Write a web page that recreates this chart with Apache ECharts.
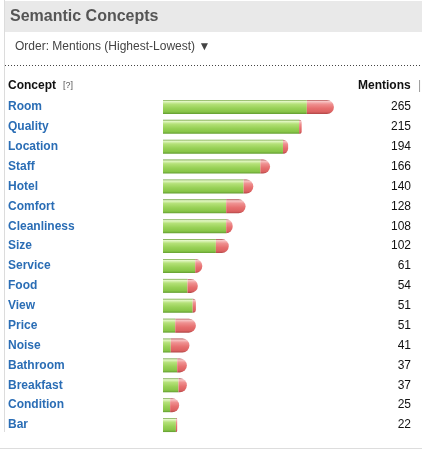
<!DOCTYPE html>
<html>
<head>
    <meta charset="utf-8"/>
    <title>Semantic Concepts</title>
    <style>
        html, body { margin: 0; padding: 0; background: #fff; }
    </style>
</head>
<body>
<div id="main" style="width: 422px;height:450px;"></div>
<script src="https://cdn.jsdelivr.net/npm/echarts@6/dist/echarts.min.js"></script>
<script>
    // concepts, ordered by mentions
    var concepts = ['Room', 'Quality', 'Location', 'Staff', 'Hotel', 'Comfort', 'Cleanliness', 'Size',
        'Service', 'Food', 'View', 'Price', 'Noise', 'Bathroom', 'Breakfast', 'Condition', 'Bar'];
    // green part (positive) and red part (negative) of each bar
    var positive = [223, 211, 186, 151, 125, 98, 98, 82, 50, 38, 46, 19, 12, 22, 24, 11, 20];
    var negative = [42, 4, 8, 15, 15, 30, 10, 20, 11, 16, 5, 32, 29, 15, 13, 14, 2];
    // totals printed on the right
    var mentions = ['265', '215', '194', '166', '140', '128', '108', '102', '61', '54', '51', '51', '41', '37', '37', '25', '22'];

    var font = '"Liberation Sans", Arial, Helvetica, sans-serif';

    var greenFill = new echarts.graphic.LinearGradient(0, 0, 0, 1, [
        {offset: 0, color: '#6f9f3e'},
        {offset: 0.1, color: '#e4f8c6'},
        {offset: 0.3, color: '#b4e178'},
        {offset: 0.6, color: '#98d157'},
        {offset: 0.85, color: '#88c548'},
        {offset: 1, color: '#629d30'}
    ]);
    var redFill = new echarts.graphic.LinearGradient(0, 0, 0, 1, [
        {offset: 0, color: '#a84848'},
        {offset: 0.1, color: '#f8c8c8'},
        {offset: 0.3, color: '#ef9090'},
        {offset: 0.6, color: '#e66f6f'},
        {offset: 0.85, color: '#dc6262'},
        {offset: 1, color: '#b04646'}
    ]);

    var myChart = echarts.init(document.getElementById('main'));

    var option = {
        animation: false,
        backgroundColor: '#fff',
        grid: {left: 163, top: 97, width: 193.5, height: 338},
        xAxis: {
            type: 'value', min: 0, max: 300, show: false
        },
        yAxis: [{
            type: 'category',
            data: concepts,
            inverse: true,
            axisLine: {show: false},
            axisTick: {show: false},
            axisLabel: {
                align: 'left', margin: 155,
                color: '#2a6db5', fontWeight: 'bold', fontSize: 12, fontFamily: font
            }
        }, {
            type: 'category',
            position: 'right',
            data: mentions,
            inverse: true,
            axisLine: {show: false},
            axisTick: {show: false},
            axisLabel: {
                align: 'right', margin: 54.5,
                color: '#111', fontSize: 12, fontFamily: font
            }
        }],
        series: [{
            name: 'positive',
            type: 'bar',
            stack: 'm',
            barWidth: 14,
            itemStyle: {color: greenFill},
            data: positive
        }, {
            name: 'negative',
            type: 'bar',
            stack: 'm',
            barWidth: 14,
            itemStyle: {color: redFill, borderRadius: [0, 7, 7, 0]},
            data: negative
        }],
        graphic: [
            // left border
            {type: 'line', shape: {x1: 4.5, y1: 0, x2: 4.5, y2: 432}, style: {stroke: '#dcdcdc', lineWidth: 1}},
            // title band
            {type: 'rect', shape: {x: 5, y: 1, width: 417, height: 31}, style: {fill: '#e9e9e9'}},
            {type: 'text', left: 10, top: 9, style: {
                text: 'Semantic Concepts', fill: '#555', font: 'bold 16px ' + font
            }},
            {type: 'text', left: 15, top: 41, style: {
                text: 'Order: Mentions (Highest-Lowest) \u25BC', fill: '#444', font: '12px ' + font
            }},
            // dotted separator
            {type: 'line', shape: {x1: 5, y1: 65.5, x2: 422, y2: 65.5},
                style: {stroke: '#444', lineWidth: 1, lineDash: [1, 2]}},
            // column headers
            {type: 'text', left: 8, top: 80, style: {
                text: 'Concept', fill: '#111', font: 'bold 12px ' + font
            }},
            {type: 'text', left: 63, top: 81, style: {
                text: '[?]', fill: '#555', font: '9px ' + font
            }},
            {type: 'text', left: 358, top: 80, style: {
                text: 'Mentions', fill: '#111', font: 'bold 12px ' + font
            }},
            {type: 'text', left: 418, top: 80, style: {
                text: '|', fill: '#999', font: '12px ' + font
            }},
            // bottom rule
            {type: 'line', shape: {x1: 0, y1: 448.5, x2: 422, y2: 448.5}, style: {stroke: '#dddddd', lineWidth: 1}}
        ]
    };

    myChart.setOption(option);
</script>
</body>
</html>
